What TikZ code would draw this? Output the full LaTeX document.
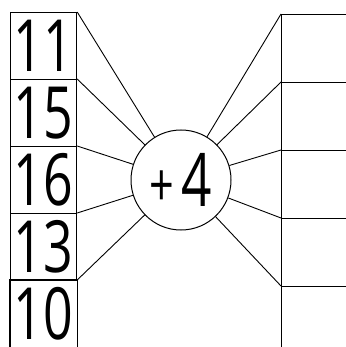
\documentclass[tikz,border=0pt]{standalone}
\usepackage{fontspec}
\newfontfamily\schoolfont[FakeStretch=0.72]{Open Sans}
\begin{document}
\begin{tikzpicture}[x=1pt,y=-1pt,
	numbox/.style={draw,line width=1.4pt,minimum width=66pt,minimum height=67pt,inner sep=0pt,anchor=north,font=\schoolfont\fontsize{72}{72}\selectfont},
	ansbox/.style={draw,line width=1.4pt,minimum width=100pt,minimum height=68pt,inner sep=0pt,anchor=north west},
	ray/.style={line width=0.9pt}]
	\useasboundingbox (0,0) rectangle (345,347);
	% left column
	\node[numbox] (n1) at (43.5,12) {11};
	\node[numbox] (n2) at (43.5,79) {15};
	\node[numbox] (n3) at (43.5,146) {16};
	\node[numbox] (n4) at (43.5,213) {13};
	\node[numbox,draw=none] (n5) at (43.5,280) {10};
	\draw[line width=1.4pt] (n5.south west) -- (n5.north west) -- (n5.north east) -- (n5.south east);
	% right column
	\node[ansbox] (r1) at (281,14) {};
	\node[ansbox] (r2) at (281,82) {};
	\node[ansbox] (r3) at (281,150) {};
	\node[ansbox] (r4) at (281,218) {};
	\node[ansbox,minimum height=75pt] (r5) at (281,286) {};
	% operator
	\node[draw,circle,line width=1pt,minimum size=100pt,inner sep=0pt,font=\schoolfont\fontsize{74}{74}\selectfont] (plus) at (181,180) {{\fontsize{60}{60}\selectfont +}\kern7pt4};
	\foreach \i in {1,...,5} {
		\draw[ray] (n\i.north east) -- (plus);
		\draw[ray] (r\i.north west) -- (plus);
	}
\end{tikzpicture}
\end{document}
